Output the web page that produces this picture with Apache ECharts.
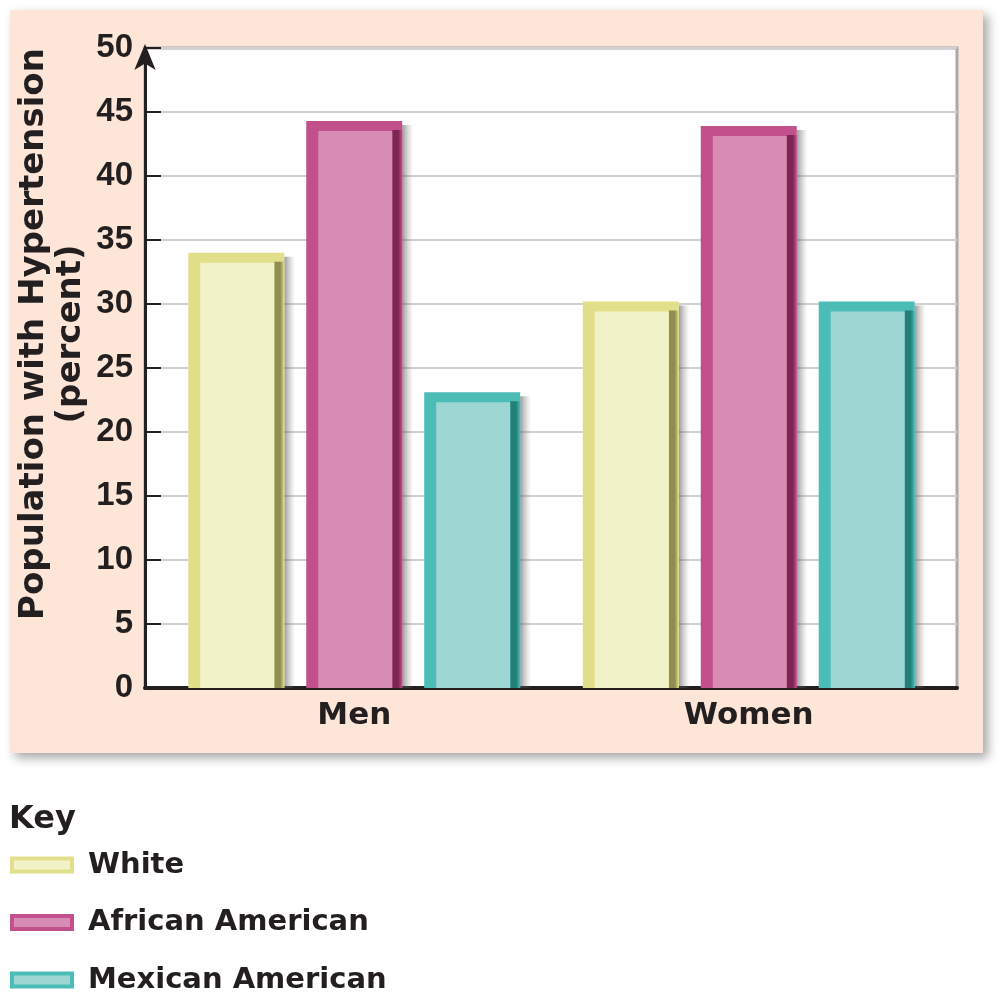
<!DOCTYPE html>
<html><head><meta charset="utf-8">
<script src="https://cdn.jsdelivr.net/npm/echarts@6/dist/echarts.min.js"></script>
<style>html,body{margin:0;padding:0;background:#fff}#c{width:1005px;height:995px}</style>
</head><body><div id="c"></div>
<script>
const categories = ['Men', 'Women'];
const seriesNames = ['White', 'African American', 'Mexican American'];
const whiteValues = [34.0, 30.2];
const africanAmericanValues = [44.3, 43.9];
const mexicanAmericanValues = [23.1, 30.2];
const yTicks = [0, 5, 10, 15, 20, 25, 30, 35, 40, 45, 50];

const borderColors = ['#e2df8b', '#c2508c', '#4cbdb6'];
const fillColors = ['#f2f2c9', '#d78cb3', '#9ed6d3'];
const darkColors = ['#8f8d4f', '#7e2652', '#237f79'];
const values = [whiteValues, africanAmericanValues, mexicanAmericanValues];
const FONT_NUM = '"Liberation Sans", Arial, sans-serif';
const FONT_TXT = '"DejaVu Sans", sans-serif';
const INK = '#231f20';

function makeRender(i) {
  return function (params, api) {
    const k = api.value(0), v = api.value(1);
    const p0 = api.coord([k, 0]);
    const p1 = api.coord([k, v]);
    const cw = api.size([1, 0])[0];
    const w = cw * 0.2433;
    const cx = p0[0] + (i - 1) * cw * 0.299;
    const x = cx - w / 2, y = p1[1], h = p0[1] - p1[1];
    return {
      type: 'group',
      children: [
        { type: 'rect', shape: { x: x + w, y: y + 4, width: 11, height: h - 4 },
          style: { fill: new echarts.graphic.LinearGradient(0, 0, 1, 0, [
            { offset: 0, color: 'rgba(70,70,70,0.55)' }, { offset: 1, color: 'rgba(150,150,150,0)' }]) } },
        { type: 'rect', shape: { x: x, y: y, width: w, height: h }, style: { fill: borderColors[i] } },
        { type: 'rect', shape: { x: x + w - 10, y: y + 9, width: 10, height: h - 9 },
          style: { fill: new echarts.graphic.LinearGradient(0, 0, 1, 0, [
            { offset: 0, color: darkColors[i] }, { offset: 0.6, color: darkColors[i] }, { offset: 1, color: borderColors[i] }]) } },
        { type: 'rect', shape: { x: x + 12, y: y + 10, width: w - 22, height: h - 10 }, style: { fill: fillColors[i] } }
      ]
    };
  };
}

const chart = echarts.init(document.getElementById('c'));
chart.setOption({
  animation: false,
  backgroundColor: '#ffffff',
  graphic: [{
    type: 'rect', z: -10, silent: true,
    shape: { x: 10, y: 10, width: 973, height: 743 },
    style: { fill: '#fde6d8', shadowColor: 'rgba(0,0,0,0.35)', shadowBlur: 10, shadowOffsetX: 5, shadowOffsetY: 5 }
  }, {
    type: 'text', silent: true,
    style: { x: 9, y: 820, text: 'Key', font: 'bold 32px ' + FONT_TXT, fill: INK, textVerticalAlign: 'middle' }
  }],
  grid: [
    { left: 145, right: 48, top: 48, bottom: 307, show: true, backgroundColor: '#ffffff', borderColor: '#aaaaaa', borderWidth: 3 },
    { left: 157, right: 59, top: 48, bottom: 307 }
  ],
  legend: seriesNames.map((n, i) => ({
    left: 10, top: 850 + i * 57.5, padding: 0,
    itemWidth: 60, itemHeight: 13,
    textStyle: { fontFamily: FONT_TXT, fontWeight: 'bold', fontSize: 29, color: INK, lineHeight: 30, padding: [0, 0, 0, 11] },
    data: [{ name: n, icon: 'rect', itemStyle: { color: fillColors[i], borderColor: borderColors[i], borderWidth: 4 } }]
  })),
  xAxis: [{
    gridIndex: 0, type: 'category', data: categories,
    axisLine: { lineStyle: { color: INK, width: 4 } },
    axisTick: { show: false }, axisLabel: { show: false }
  }, {
    gridIndex: 1, type: 'category', data: categories,
    axisLine: { show: false }, axisTick: { show: false }, splitLine: { show: false },
    axisLabel: { fontFamily: FONT_TXT, fontWeight: 'bold', fontSize: 31, color: INK, margin: 12 }
  }],
  yAxis: [{
    gridIndex: 0, type: 'value', min: 0, max: 50, interval: 5,
    name: 'Population with Hypertension\n(percent)',
    nameLocation: 'middle', nameGap: 55, nameRotate: 90, nameMoveOverlap: false,
    nameTextStyle: { fontFamily: FONT_TXT, fontWeight: 'bold', fontSize: 34, color: INK, lineHeight: 37, align: 'center', padding: [0, 0, 0, 68] },
    axisLine: { show: true, lineStyle: { color: INK, width: 3 }, symbol: ['none', 'arrow'], symbolSize: [16, 26], symbolOffset: [0, 4] },
    axisTick: { show: true, inside: true, length: 16, lineStyle: { color: INK, width: 2 } },
    splitLine: { lineStyle: { color: '#d0d0d0', width: 2 } },
    axisLabel: { fontFamily: FONT_NUM, fontWeight: 'bold', fontSize: 33, color: INK, margin: 12,
      formatter: v => yTicks.includes(v) ? String(v) : '' }
  }, {
    gridIndex: 1, type: 'value', min: 0, max: 50, interval: 5, show: false
  }],
  series: seriesNames.map((n, i) => ({
    name: n, type: 'custom', xAxisIndex: 1, yAxisIndex: 1,
    encode: { x: 0, y: 1 },
    itemStyle: { color: fillColors[i] },
    renderItem: makeRender(i),
    data: values[i].map((v, k) => [k, v])
  }))
});
</script></body></html>
